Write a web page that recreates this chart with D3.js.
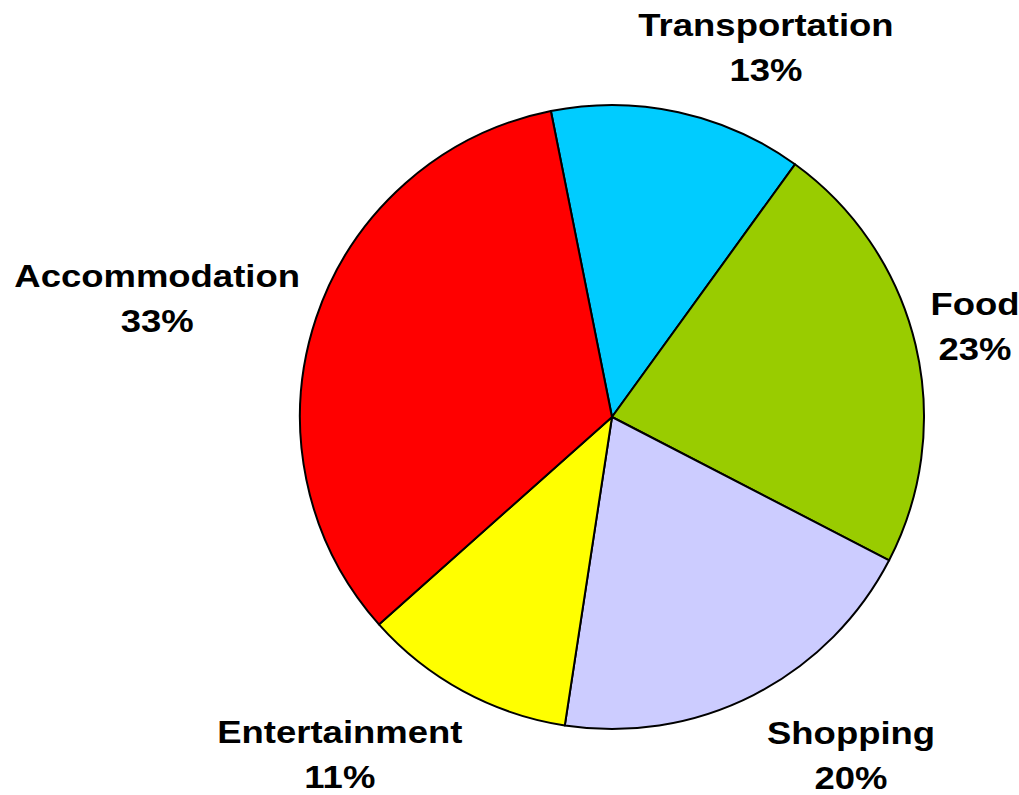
<!DOCTYPE html>
<html>
<head>
<meta charset="utf-8">
<script src="https://cdn.jsdelivr.net/npm/d3@7"></script>
<style>
  body { margin: 0; background: #fff; }
  .lbl { font-family: "Liberation Sans", Arial, sans-serif; font-weight: bold; font-size: 32px; fill: #000; }
</style>
</head>
<body>
<div id="chart"></div>
<script>
// data (shares in %, labels show them rounded)
var categories = ["Transportation", "Food", "Shopping", "Entertainment", "Accommodation"];
var shares = [13.1, 22.6, 19.8, 11.0, 33.4];
var colors = ["#00CCFF", "#99CC00", "#CCCCFF", "#FFFF00", "#FF0000"];

var svgWidth = 1019;
var svgHeight = 795;

// pie centre and radius
var cx = 612, cy = 417, radius = 312;

var svg = d3.select("#chart")
  .append("svg")
  .attr("width", svgWidth)
  .attr("height", svgHeight);

var chartGroup = svg.append("g")
  .attr("transform", `translate(${cx}, ${cy})`);

var rows = categories.map(function(c, i) {
  return { name: c, value: shares[i], color: colors[i] };
});

var startAngle = -11.3 * Math.PI / 180;

var pie = d3.pie()
  .sort(null)
  .value(d => d.value)
  .startAngle(startAngle)
  .endAngle(startAngle + 2 * Math.PI);

var arc = d3.arc()
  .innerRadius(0)
  .outerRadius(radius);

var arcs = pie(rows);

chartGroup.selectAll("path")
  .data(arcs)
  .enter()
  .append("path")
  .attr("d", arc)
  .attr("fill", d => d.data.color)
  .attr("stroke", "#000")
  .attr("stroke-width", 2)
  .attr("stroke-linejoin", "round");

// label placement: angle shift (deg) off the slice middle and distance from centre
var labelLayout = [
  { shift: 9.7, r: 411 },
  { shift: -2.3, r: 377 },
  { shift: -9.2, r: 405 },
  { shift: 11.3, r: 425 },
  { shift: -2.6, r: 473 }
];

var labels = chartGroup.selectAll("g.label")
  .data(arcs)
  .enter()
  .append("g")
  .attr("class", "label")
  .attr("transform", function(d, i) {
    var a = (d.startAngle + d.endAngle) / 2 + labelLayout[i].shift * Math.PI / 180;
    var r = labelLayout[i].r;
    return `translate(${r * Math.sin(a)}, ${-r * Math.cos(a)}) scale(1.14, 1)`;
  });

labels.append("text")
  .attr("class", "lbl")
  .attr("text-anchor", "middle")
  .attr("y", 0)
  .text(d => d.data.name);

labels.append("text")
  .attr("class", "lbl")
  .attr("text-anchor", "middle")
  .attr("y", 45)
  .text(d => Math.round(d.data.value) + "%");
</script>
</body>
</html>
